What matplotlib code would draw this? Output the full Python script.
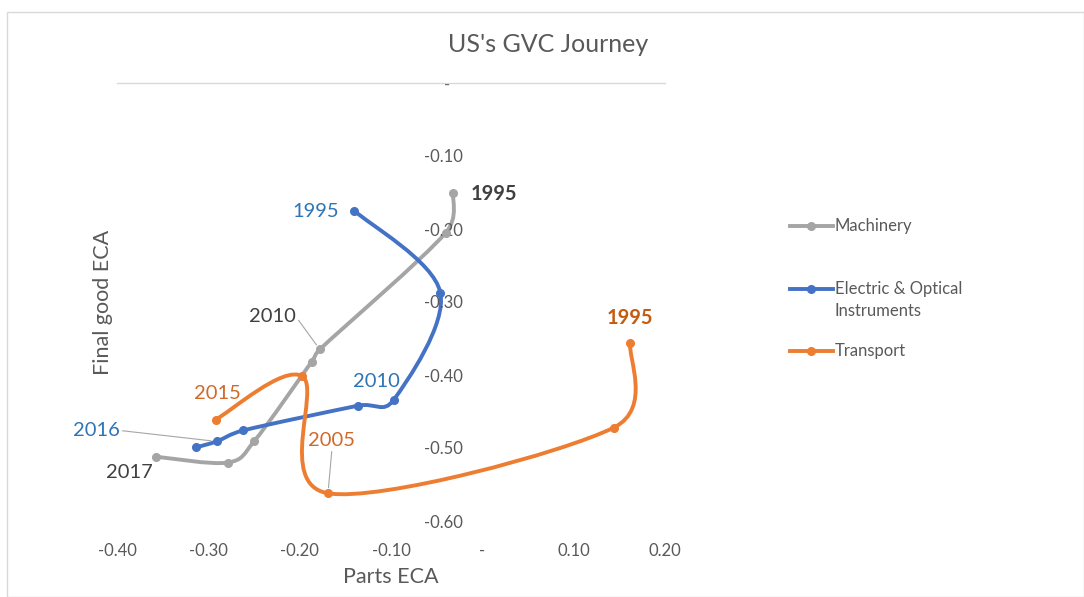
import matplotlib
matplotlib.use('Agg')
import matplotlib.pyplot as plt
import numpy as np
from matplotlib.path import Path
from matplotlib.patches import PathPatch, Rectangle
from matplotlib.lines import Line2D

plt.rcParams['font.family'] = ['Lato', 'DejaVu Sans']

# data (Parts ECA, Final good ECA)
machinery_x = [-0.032, -0.040, -0.178, -0.187, -0.250, -0.279, -0.357]
machinery_y = [-0.150, -0.205, -0.365, -0.382, -0.491, -0.520, -0.512]
electric_x = [-0.140, -0.046, -0.097, -0.136, -0.262, -0.291, -0.313]
electric_y = [-0.175, -0.287, -0.434, -0.442, -0.476, -0.491, -0.499]
transport_x = [0.162, 0.144, -0.169, -0.197, -0.292]
transport_y = [-0.356, -0.472, -0.562, -0.402, -0.461]

series_names = ['Machinery', 'Electric & Optical\nInstruments', 'Transport']
colors = ['#A5A5A5', '#4472C4', '#ED7D31']

xticks = [-0.4, -0.3, -0.2, -0.1, 0.0, 0.1, 0.2]
xticklabels = ['-0.40', '-0.30', '-0.20', '-0.10', '-', '0.10', '0.20']
yticks = [0.0, -0.1, -0.2, -0.3, -0.4, -0.5, -0.6]
yticklabels = ['-   ', '-0.10', '-0.20', '-0.30', '-0.40', '-0.50', '-0.60']

W, H = 1084, 597
fig = plt.figure(figsize=(W / 100, H / 100), dpi=100)
ax = fig.add_axes([117 / W, 1 - 521 / H, 548 / W, 438 / H])
ax.set_xlim(-0.4, 0.2)
ax.set_ylim(-0.6, 0.0)

# pixels per data unit, used for Excel-like smoothing
sx = 548 / 0.6
sy = 438 / 0.6


def excel_smooth(xs, ys):
    p = np.column_stack([np.asarray(xs) * sx, np.asarray(ys) * sy])
    n = len(p)
    verts = [p[0]]
    codes = [Path.MOVETO]
    for i in range(n - 1):
        p0 = p[max(i - 1, 0)]
        p1 = p[i]
        p2 = p[i + 1]
        p3 = p[min(i + 2, n - 1)]
        d12 = np.hypot(*(p2 - p1))
        d02 = np.hypot(*(p2 - p0))
        d13 = np.hypot(*(p3 - p1))
        f0 = min(1 / 6, 0.5 * d12 / d02) if d02 > 0 else 0
        f1 = min(1 / 6, 0.5 * d12 / d13) if d13 > 0 else 0
        verts += [p1 + (p2 - p0) * f0, p2 - (p3 - p1) * f1, p2]
        codes += [Path.CURVE4] * 3
    verts = np.array(verts) / [sx, sy]
    return Path(verts, codes)


all_x = [machinery_x, electric_x, transport_x]
all_y = [machinery_y, electric_y, transport_y]
for xs, ys, c in zip(all_x, all_y, colors):
    ax.add_patch(PathPatch(excel_smooth(xs, ys), facecolor='none', edgecolor=c,
                           lw=2.8, capstyle='round', joinstyle='round'))
    ax.plot(xs, ys, 'o', color=c, ms=5.5, zorder=3)

# axes styling
for s in ['left', 'right', 'bottom']:
    ax.spines[s].set_visible(False)
ax.spines['top'].set_color('#D9D9D9')
ax.spines['top'].set_linewidth(1.0)
ax.spines['left'].set_position(('data', 0))
ax.set_xticks(xticks, xticklabels)
ax.set_yticks(yticks, yticklabels)
ax.tick_params(axis='x', length=0, pad=16, labelsize=12, labelcolor='#595959')
ax.tick_params(axis='y', length=0, pad=14, labelsize=12, labelcolor='#595959')
ax.patch.set_alpha(0)

# data labels
grey_t = '#404040'
blue_t = '#2E75B6'
orange_t = '#D0692A'
fs = 14.5
lead = dict(arrowstyle='-', color='#A6A6A6', lw=0.8, shrinkA=0, shrinkB=4)

ax.annotate('1995', (machinery_x[0], machinery_y[0]), xytext=(18, -1), textcoords='offset pixels',
            ha='left', va='center', fontsize=fs, fontweight='bold', color=grey_t)
ax.annotate('2010', (machinery_x[2], machinery_y[2]), xytext=(-24, 33), textcoords='offset pixels',
            ha='right', va='center', fontsize=fs, color=grey_t,
            arrowprops=dict(lead, relpos=(1, 0.5)))
ax.annotate('2017', (machinery_x[6], machinery_y[6]), xytext=(-4, -16), textcoords='offset pixels',
            ha='right', va='center', fontsize=fs, color=grey_t)
ax.annotate('1995', (electric_x[0], electric_y[0]), xytext=(-15, -1), textcoords='offset pixels',
            ha='right', va='center', fontsize=fs, color=blue_t)
ax.annotate('2010', (electric_x[3], electric_y[3]), xytext=(18, 24), textcoords='offset pixels',
            ha='center', va='center', fontsize=fs, color=blue_t)
ax.annotate('2016', (electric_x[5], electric_y[5]), xytext=(-97, 11), textcoords='offset pixels',
            ha='right', va='center', fontsize=fs, color=blue_t,
            arrowprops=dict(lead, relpos=(1, 0.5)))
ax.annotate('1995', (transport_x[0], transport_y[0]), xytext=(0, 25), textcoords='offset pixels',
            ha='center', va='center', fontsize=fs, fontweight='bold', color='#C55A11')
ax.annotate('2005', (transport_x[2], transport_y[2]), xytext=(4, 53), textcoords='offset pixels',
            ha='center', va='center', fontsize=fs, color=orange_t,
            arrowprops=dict(lead, relpos=(0.5, 0)))
ax.annotate('2015', (transport_x[4], transport_y[4]), xytext=(2, 26), textcoords='offset pixels',
            ha='center', va='center', fontsize=fs, color=orange_t)

# titles
fig.text(548 / W, 1 - 45 / H, "US's GVC Journey", ha='center', va='center', fontsize=18, color='#595959')
fig.text(391 / W, 1 - 577 / H, 'Parts ECA', ha='center', va='center', fontsize=15.5, color='#595959')
fig.text(103 / W, 1 - 302 / H, 'Final good ECA', ha='center', va='center', rotation=90,
         fontsize=15.5, color='#595959')

# legend
leg_y = [226, 300, 351]
for name, c, yy in zip(series_names, colors, leg_y):
    ly = 1 - (yy if '\n' not in name else 289) / H
    fig.add_artist(Line2D([790 / W, 833 / W], [ly, ly], color=c, lw=2.8,
                          transform=fig.transFigure))
    fig.add_artist(Line2D([811 / W], [ly], marker='o', ms=5.5, color=c,
                          transform=fig.transFigure))
    fig.text(835 / W, 1 - yy / H, name, ha='left', va='center', fontsize=12,
             color='#595959', linespacing=1.45)

# chart border
fig.add_artist(Rectangle((7 / W, 0), 1 - 7 / W, 1 - 12 / H, transform=fig.transFigure,
                         fill=False, edgecolor='#D9D9D9', lw=1))

fig.savefig('out.png', dpi=100)
